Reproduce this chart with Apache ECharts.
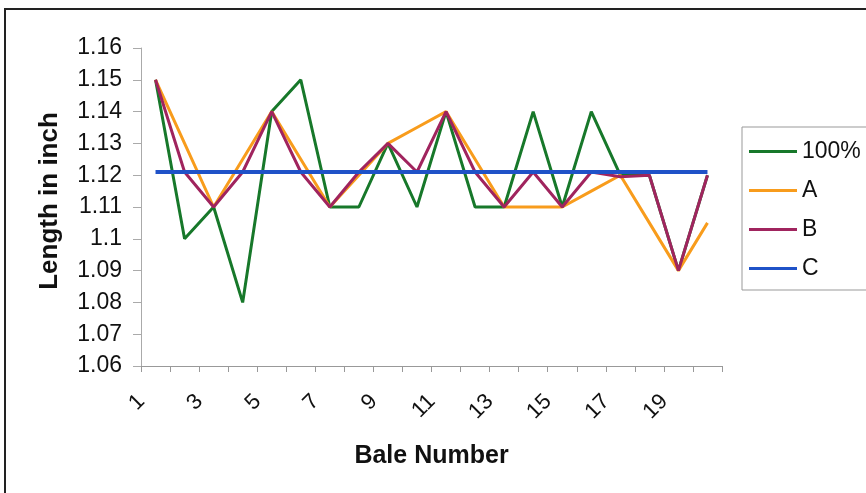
<!DOCTYPE html>
<html>
<head>
<meta charset="utf-8">
<script src="https://cdn.jsdelivr.net/npm/echarts@6/dist/echarts.min.js"></script>
<style>
html,body{margin:0;padding:0;background:#fff;}
#chart{width:866px;height:493px;}
</style>
</head>
<body>
<div id="chart"></div>
<script>
var categories = ['1','2','3','4','5','6','7','8','9','10','11','12','13','14','15','16','17','18','19','20'];
var series100 = [1.15,1.10,1.11,1.08,1.14,1.15,1.11,1.11,1.13,1.11,1.14,1.11,1.11,1.14,1.11,1.14,1.12,1.12,1.09,1.12];
var seriesA = [1.15,1.13,1.11,1.125,1.14,1.125,1.11,1.12,1.13,1.135,1.14,1.125,1.11,1.11,1.11,1.115,1.12,1.105,1.09,1.105];
var seriesB = [1.15,1.121,1.11,1.121,1.14,1.121,1.11,1.121,1.13,1.121,1.14,1.121,1.11,1.121,1.11,1.121,1.1195,1.12,1.09,1.12];
var seriesC = [1.121,1.121,1.121,1.121,1.121,1.121,1.121,1.121,1.121,1.121,1.121,1.121,1.121,1.121,1.121,1.121,1.121,1.121,1.121,1.121];
var yTicks = { min: 1.06, max: 1.16, step: 0.01 };

var FONT = '"Liberation Sans", Arial, sans-serif';
var chart = echarts.init(document.getElementById('chart'), null, {renderer:'canvas'});
function mk(name, data, color, width) {
  return { name: name, type: 'line', data: data, symbol: 'none',
    lineStyle: { color: color, width: width }, itemStyle: { color: color }, animation: false };
}
chart.setOption({
  backgroundColor: '#fff',
  animation: false,
  graphic: [{ type: 'rect', shape: { x: 5, y: 9, width: 900, height: 520 },
    style: { fill: 'none', stroke: '#222', lineWidth: 2 }, silent: true }],
  grid: { left: 141, right: 144, top: 48, bottom: 127, containLabel: false },
  legend: {
    left: 742, top: 127, orient: 'vertical',
    data: ['100%','A','B','C'],
    icon: 'rect',
    itemWidth: 48, itemHeight: 3, itemGap: 16,
    padding: [13, 30, 10, 7],
    borderColor: '#999', borderWidth: 1, backgroundColor: '#fff',
    textStyle: { fontFamily: FONT, fontSize: 23, color: '#111', padding: [0,0,0,0] }
  },
  xAxis: {
    type: 'category', data: categories, boundaryGap: true,
    name: 'Bale Number', nameLocation: 'middle', nameGap: 78,
    nameTextStyle: { fontFamily: FONT, fontSize: 25, fontWeight: 'bold', color: '#111' },
    axisLine: { lineStyle: { color: '#999', width: 1 } },
    axisTick: { show: true, alignWithLabel: false, interval: 0, length: 6, lineStyle: { color: '#999' } },
    axisLabel: { interval: 1, rotate: 45, margin: 18, padding: [0, 20, 0, 0],
      fontFamily: FONT, fontSize: 22, color: '#111' },
    splitLine: { show: false }
  },
  yAxis: {
    type: 'value', min: yTicks.min, max: yTicks.max, interval: yTicks.step,
    name: 'Length in inch', nameLocation: 'middle', nameGap: 78,
    nameTextStyle: { fontFamily: FONT, fontSize: 26, fontWeight: 'bold', color: '#111', padding: [0, 0, 0, 12] },
    axisLine: { show: true, lineStyle: { color: '#aaa', width: 1 } },
    axisTick: { show: true, length: 8, lineStyle: { color: '#aaa' } },
    axisLabel: { margin: 19, fontFamily: FONT, fontSize: 23, color: '#111',
      formatter: function (v) { return String(parseFloat(v.toFixed(2))); } },
    splitLine: { show: false }
  },
  series: [
    mk('100%', series100, '#17782a', 3),
    mk('A', seriesA, '#f89c1c', 3),
    mk('B', seriesB, '#a0245e', 3),
    mk('C', seriesC, '#1f52c8', 4)
  ]
});
</script>
</body>
</html>
